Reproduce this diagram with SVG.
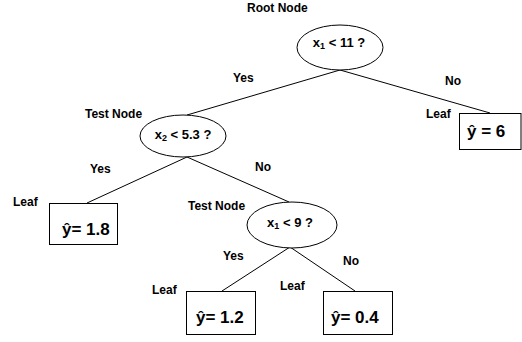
<svg xmlns="http://www.w3.org/2000/svg" width="522" height="342" viewBox="0 0 522 342">
<style>
text{font-family:"Liberation Sans",Arial,sans-serif;font-weight:bold;fill:#000}
.lbl{font-size:12px}
.cond{font-size:13px;text-anchor:middle}
.val{font-size:17px}
.shape{fill:#fff;stroke:#000;stroke-width:1}
.edge{stroke:#000;stroke-width:1;fill:none}
</style>
<rect width="522" height="342" fill="#fff"/>
<g id="connectors">
<line class="edge" x1="340" y1="70" x2="187" y2="115"/>
<line class="edge" x1="340" y1="70" x2="490" y2="113"/>
<line class="edge" x1="187" y1="157" x2="87" y2="203"/>
<line class="edge" x1="187" y1="157" x2="289" y2="202"/>
<line class="edge" x1="290" y1="247" x2="222" y2="291"/>
<line class="edge" x1="290" y1="247" x2="355" y2="291"/>
<text class="lbl" x="233" y="82">Yes</text>
<text class="lbl" x="445" y="85">No</text>
<text class="lbl" x="90" y="173">Yes</text>
<text class="lbl" x="255" y="171">No</text>
<text class="lbl" x="223" y="260">Yes</text>
<text class="lbl" x="343" y="265">No</text>
</g>
<g id="root">
<text class="lbl" x="247" y="12">Root Node</text>
<ellipse class="shape" cx="340" cy="47.5" rx="43" ry="22.5"/>
<text class="cond" x="339" y="47">x<tspan font-size="9" dy="2">1</tspan><tspan dy="-2"> &lt; 11 ?</tspan></text>
</g>
<g id="test1">
<text class="lbl" x="85" y="118">Test Node</text>
<ellipse class="shape" cx="183" cy="136" rx="43" ry="21"/>
<text class="cond" x="183" y="139">x<tspan font-size="9" dy="2">2</tspan><tspan dy="-2"> &lt; 5.3 ?</tspan></text>
</g>
<g id="test2">
<text class="lbl" x="188" y="210">Test Node</text>
<ellipse class="shape" cx="292" cy="225" rx="45" ry="23"/>
<text class="cond" x="290" y="227">x<tspan font-size="9" dy="2">1</tspan><tspan dy="-2"> &lt; 9 ?</tspan></text>
</g>
<g id="leaf6">
<text class="lbl" x="426" y="118">Leaf</text>
<rect class="shape" x="459.5" y="113.5" width="61.5" height="36"/>
<text class="val" x="467" y="137">ŷ = 6</text>
</g>
<g id="leaf18">
<text class="lbl" x="13" y="206">Leaf</text>
<rect class="shape" x="49.5" y="203.5" width="68" height="41"/>
<text class="val" x="62" y="235">ŷ= 1.8</text>
</g>
<g id="leaf12">
<text class="lbl" x="152" y="294">Leaf</text>
<rect class="shape" x="186.5" y="291.5" width="69" height="43"/>
<text class="val" x="196" y="323">ŷ= 1.2</text>
</g>
<g id="leaf04">
<text class="lbl" x="280" y="290">Leaf</text>
<rect class="shape" x="323.5" y="291.5" width="69" height="43"/>
<text class="val" x="331" y="323">ŷ= 0.4</text>
</g>
</svg>
